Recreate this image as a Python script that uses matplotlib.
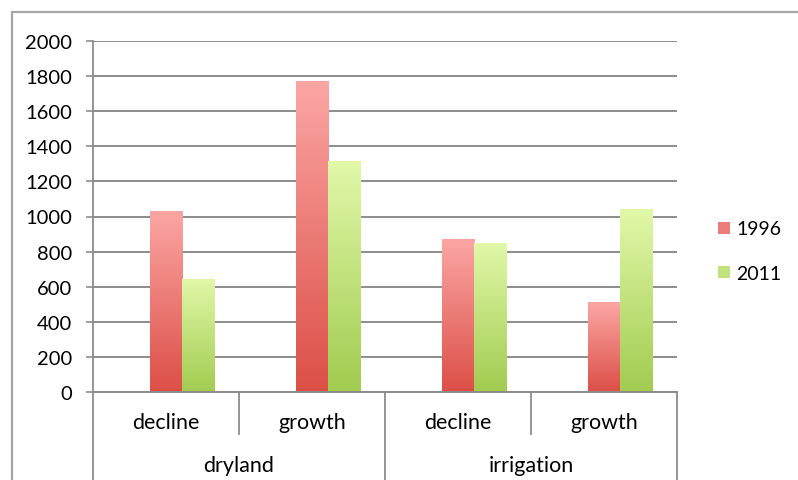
import matplotlib
matplotlib.use("Agg")
import matplotlib.pyplot as plt
import numpy as np
from matplotlib.patches import Rectangle
from matplotlib.colors import LinearSegmentedColormap
import matplotlib.transforms as mtransforms

# ---- data ----
groups = ["dryland", "irrigation"]
subcats = ["decline", "growth", "decline", "growth"]
series_names = ["1996", "2011"]
values_1996 = [1030, 1770, 870, 510]
values_2011 = [645, 1315, 850, 1040]
yticks = [0, 200, 400, 600, 800, 1000, 1200, 1400, 1600, 1800, 2000]

plt.rcParams['font.family'] = ['Lato', 'DejaVu Sans']

W, H = 798, 481
fig = plt.figure(figsize=(W / 100, H / 100), dpi=100)

# outer frame
frame = Rectangle((12 / W, -0.1), 1.2, 1 - 13 / H + 0.1, transform=fig.transFigure,
                  fill=False, edgecolor="#a6a6a6", linewidth=1.6, zorder=0)
fig.patches.append(frame)

left, right, top, bottom = 93, 677, 42, 393
ax = fig.add_axes([left / W, 1 - bottom / H, (right - left) / W, (bottom - top) / H])

ncat = len(subcats)
ax.set_xlim(-0.5, ncat - 0.5)
ax.set_ylim(0, 2000)
ax.set_yticks(yticks)
ax.set_yticklabels([str(t) for t in yticks], fontsize=14.5, color="#000000")
ax.tick_params(axis="y", length=5, width=1.2, color="#8c8c8c", pad=10)
ax.set_xticks([])
for s in ["top", "right", "bottom"]:
    ax.spines[s].set_visible(False)
ax.spines["left"].set_color("#8c8c8c")
ax.spines["left"].set_linewidth(1.3)
ax.yaxis.grid(True, color="#8c8c8c", linewidth=1.4)
ax.set_axisbelow(True)

bw = 1 / 4.5
x = np.arange(ncat)

cmap_red = LinearSegmentedColormap.from_list("r", ["#dc4f47", "#fba6a4"])
cmap_green = LinearSegmentedColormap.from_list("g", ["#a2cb50", "#e1f8a9"])
grad = np.linspace(0, 1, 256).reshape(-1, 1)

def gradient_bars(xpos, vals, cmap):
    bars = ax.bar(xpos, vals, width=bw, color="none", edgecolor="none", zorder=2)
    for b in bars:
        x0, y0 = b.get_x(), b.get_y()
        w, h = b.get_width(), b.get_height()
        im = ax.imshow(grad, extent=[x0, x0 + w, y0, y0 + h], origin="lower",
                       cmap=cmap, aspect="auto", zorder=2, interpolation="bilinear")
        im.set_clip_path(b)
    return bars

gradient_bars(x, values_1996, cmap_red)
gradient_bars(x + bw, values_2011, cmap_green)
ax.set_xlim(-0.5, ncat - 0.5)
ax.set_ylim(0, 2000)

# category axis
trans = mtransforms.blended_transform_factory(ax.transData, ax.transAxes)
lc = "#8c8c8c"
ax.plot([-0.5, ncat - 0.5], [0, 0], transform=trans, color=lc, lw=1.4, clip_on=False, zorder=3)
inner_bottom = (bottom - 435) / (bottom - top)
outer_bottom = (bottom - 490) / (bottom - top)
for b in [0.5, 2.5]:
    ax.plot([b, b], [0, inner_bottom], transform=trans, color=lc, lw=1.3, clip_on=False)
for b in [-0.5, 1.5, 3.5]:
    ax.plot([b, b], [0, outer_bottom], transform=trans, color=lc, lw=1.3, clip_on=False)

lab_y = (bottom - 423) / (bottom - top)
for i, s in enumerate(subcats):
    ax.text(i, lab_y, s, transform=trans, ha="center", va="center", fontsize=15.5, color="#000000")
grp_y = (bottom - 466) / (bottom - top)
for g, name in enumerate(groups):
    ax.text(2 * g + 0.5, grp_y, name, transform=trans, ha="center", va="center",
            fontsize=15.5, color="#000000")

# legend
leg_colors = ["#ec7d78", "#c2e27d"]
leg_y = [229, 273]
for name, c, yy in zip(series_names, leg_colors, leg_y):
    fig.patches.append(Rectangle((718 / W, 1 - (yy + 6) / H), 12 / W, 12 / H,
                                 transform=fig.transFigure, facecolor=c, edgecolor="none"))
    fig.text(736 / W, 1 - (yy + 1) / H, name, ha="left", va="center", fontsize=14, color="#000000")

fig.savefig("out.png", dpi=100)
